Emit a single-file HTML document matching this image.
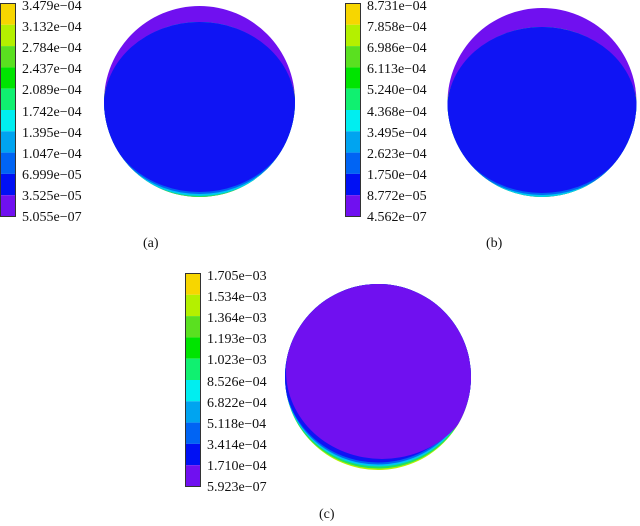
<!DOCTYPE html>
<html><head><style>
body{margin:0;background:#fff;}
svg text{font-family:"Liberation Serif",serif;font-size:14px;fill:#111;}
</style></head><body>
<svg width="640" height="521" xmlns="http://www.w3.org/2000/svg">
<defs>
<clipPath id="ca"><circle cx="199.5" cy="101.5" r="95.5"/></clipPath>
<clipPath id="cb"><circle cx="542" cy="102.5" r="94.5"/></clipPath>
<clipPath id="cc"><circle cx="378" cy="377" r="93"/></clipPath>
<g id="bar">
<rect x="0" y="0" width="15" height="21.3" fill="#f7d600"/>
<rect x="0" y="21.3" width="15" height="21.3" fill="#b4f000"/>
<rect x="0" y="42.6" width="15" height="21.3" fill="#5ae020"/>
<rect x="0" y="63.9" width="15" height="21.3" fill="#00e400"/>
<rect x="0" y="85.2" width="15" height="21.3" fill="#10f070"/>
<rect x="0" y="106.5" width="15" height="21.3" fill="#00eef0"/>
<rect x="0" y="127.8" width="15" height="21.3" fill="#00a4f0"/>
<rect x="0" y="149.1" width="15" height="21.3" fill="#0064f4"/>
<rect x="0" y="170.4" width="15" height="21.3" fill="#0010f4"/>
<rect x="0" y="191.7" width="15" height="21.3" fill="#7010f0"/>
<rect x="0" y="0" width="15" height="213" fill="none" stroke="#333" stroke-width="1"/>
</g>
</defs>

<!-- (a) -->
<use href="#bar" x="0.5" y="3.5"/>
<g>
<text x="22" y="10">3.479e−04</text><text x="22" y="31">3.132e−04</text><text x="22" y="52">2.784e−04</text><text x="22" y="73">2.437e−04</text><text x="22" y="94">2.089e−04</text><text x="22" y="116">1.742e−04</text><text x="22" y="137">1.395e−04</text><text x="22" y="158">1.047e−04</text><text x="22" y="179">6.999e−05</text><text x="22" y="200">3.525e−05</text><text x="22" y="221">5.055e−07</text>
</g>
<g clip-path="url(#ca)">
<rect x="100" y="0" width="200" height="200" fill="#7010f0"/>
<ellipse cx="199.5" cy="111" rx="97" ry="89" fill="#b4f000"/>
<ellipse cx="199.5" cy="110" rx="96.5" ry="88" fill="#20e060"/>
<ellipse cx="199.5" cy="109" rx="96" ry="87" fill="#00c8f0"/>
<ellipse cx="199.5" cy="108" rx="96" ry="86" fill="#0064f4"/>
<ellipse cx="199.5" cy="107" rx="96" ry="85" fill="#0f14f4"/>
</g>
<text x="143" y="247">(a)</text>

<!-- (b) -->
<use href="#bar" x="345.5" y="3.5"/>
<g>
<text x="367" y="10">8.731e−04</text><text x="367" y="31">7.858e−04</text><text x="367" y="52">6.986e−04</text><text x="367" y="73">6.113e−04</text><text x="367" y="94">5.240e−04</text><text x="367" y="116">4.368e−04</text><text x="367" y="137">3.495e−04</text><text x="367" y="158">2.623e−04</text><text x="367" y="179">1.750e−04</text><text x="367" y="200">8.772e−05</text><text x="367" y="221">4.562e−07</text>
</g>
<g clip-path="url(#cb)">
<rect x="440" y="0" width="200" height="200" fill="#7010f0"/>
<ellipse cx="542" cy="114" rx="96" ry="87" fill="#b4f000"/>
<ellipse cx="542" cy="113" rx="95.5" ry="86" fill="#20e060"/>
<ellipse cx="542" cy="112" rx="95" ry="85" fill="#00c8f0"/>
<ellipse cx="542" cy="111" rx="95" ry="84" fill="#0064f4"/>
<ellipse cx="542" cy="110" rx="95" ry="83" fill="#0f14f4"/>
</g>
<text x="486" y="247">(b)</text>

<!-- (c) -->
<use href="#bar" x="185.5" y="273.5"/>
<g>
<text x="207" y="280">1.705e−03</text><text x="207" y="301">1.534e−03</text><text x="207" y="322">1.364e−03</text><text x="207" y="343">1.193e−03</text><text x="207" y="364">1.023e−03</text><text x="207" y="386">8.526e−04</text><text x="207" y="407">6.822e−04</text><text x="207" y="428">5.118e−04</text><text x="207" y="449">3.414e−04</text><text x="207" y="470">1.710e−04</text><text x="207" y="491">5.923e−07</text>
</g>
<g clip-path="url(#cc)">
<rect x="280" y="280" width="200" height="200" fill="#b4f000"/>
<ellipse cx="378" cy="376" rx="94" ry="92.5" fill="#20e060"/>
<ellipse cx="378" cy="375" rx="94" ry="91.5" fill="#00c8f0"/>
<ellipse cx="378" cy="374" rx="94" ry="90.5" fill="#0064f4"/>
<ellipse cx="378" cy="373" rx="94" ry="89.5" fill="#0f14f4"/>
<ellipse cx="382" cy="371" rx="96" ry="88" fill="#7010f0"/>
</g>
<text x="319" y="518">(c)</text>
</svg>
</body></html>
